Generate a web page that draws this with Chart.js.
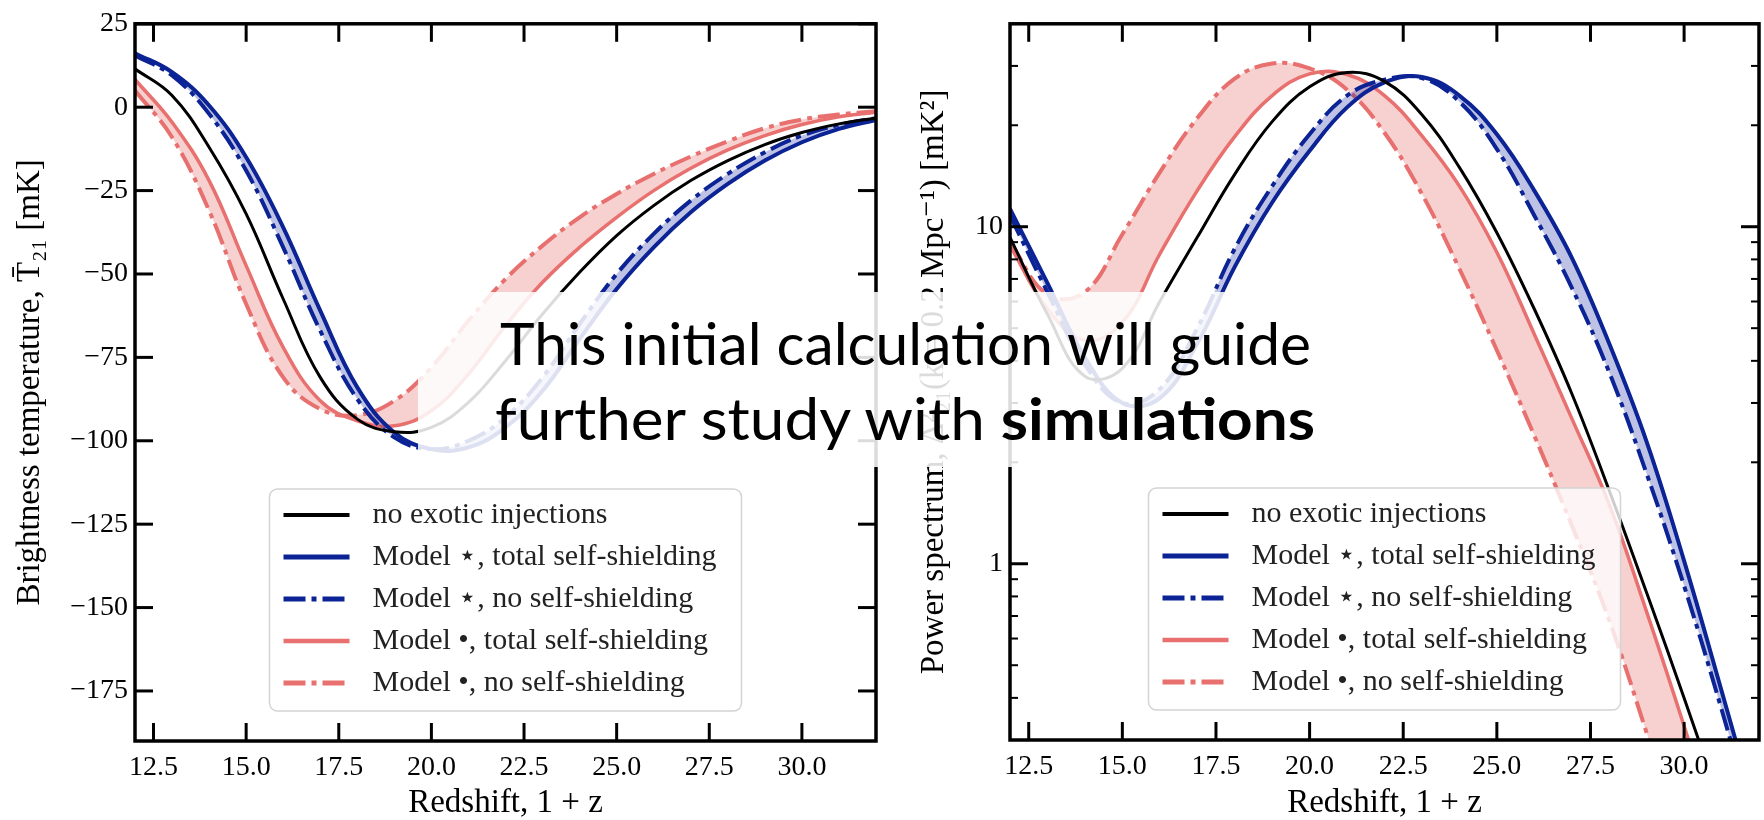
<!DOCTYPE html>
<html>
<head>
<meta charset="utf-8">
<script src="https://cdn.jsdelivr.net/npm/chart.js@4.4.1/dist/chart.umd.min.js"></script>
<style>
  html, body { margin: 0; padding: 0; background: #fff; }
  body { width: 1764px; height: 820px; position: relative; overflow: hidden; }
  .panel { position: absolute; top: 0; height: 820px; }
  #leftBox { left: 0; width: 900px; }
  #rightBox { left: 880px; width: 884px; }
  #note {
    position: absolute; left: 418px; top: 292px; width: 917px; height: 175px;
    background: rgba(255, 255, 255, 0.86); z-index: 5;
  }
  #note .line {
    position: absolute; white-space: nowrap; line-height: 1;
    font-family: Lato, "Open Sans", sans-serif; font-size: 58px; color: #000;
    transform-origin: 0 0;
  }
</style>
</head>
<body>
<div id="leftBox" class="panel"><canvas id="tempChart"></canvas></div>
<div id="rightBox" class="panel"><canvas id="powerChart"></canvas></div>
<div id="note">
  <div class="line" style="left:82px; top:22px" data-w="811">This initial calculation will guide</div>
  <div class="line" style="left:77px; top:97px" data-w="820">further study with <b>simulations</b></div>
</div>
<script>
// redshift grid, 1 + z
const redshift = [12, 13, 14, 15, 16, 17, 18, 19, 20, 21, 22, 23, 24, 25, 26, 27, 28, 29, 30, 31, 32];

// global 21-cm brightness temperature [mK]
const tNoExotic  = [11.5, 3.5, -12, -32, -57.5, -81, -93.5, -97.3, -96, -88.5, -76, -62, -49.5, -38.5, -29.5, -22, -16, -11.2, -7.6, -5, -3.2];
const tStarTotal = [16.2, 10.5, 0.5, -15, -36, -61, -84, -97.5, -102.5, -102, -96, -85, -69.5, -54.5, -42, -31.5, -23, -16, -10.5, -6.5, -3.8];
const tStarNone  = [15.5, 9.5, -2, -19, -42, -67, -87.5, -99, -102.5, -100, -93, -81, -65, -50, -38, -28, -20, -13.5, -8.5, -5.3, -3.3];
const tDotTotal  = [8.3, -4.5, -22, -47.5, -72, -88, -94, -95.5, -91, -80, -65.5, -52.5, -42, -33, -25, -18.3, -12.8, -8.5, -5.2, -2.9, -1.5];
const tDotNone   = [5, -9, -31, -59, -81, -90.5, -92.3, -88, -78, -64, -51.5, -41.5, -33, -26, -20, -14.8, -10.2, -6.3, -3.7, -2.2, -1.2];

// 21-cm power spectrum at k = 0.2 Mpc^-1 [mK^2]
const pNoExotic  = [9.3, 5.5, 3.6, 3.8, 6.0, 9.3, 14.3, 20.5, 26, 28.7, 27, 21.5, 15, 9.6, 5.7, 3.2, 1.65, 0.82, 0.4, 0.19, 0.09];
const pStarTotal = [11.3, 6.8, 4.1, 3.0, 3.1, 4.5, 7.6, 11.8, 16.8, 22.6, 26.8, 27.8, 24.5, 18.8, 12.8, 8.1, 4.5, 2.3, 1.02, 0.42, 0.17];
const pStarNone  = [10.8, 6.4, 3.9, 3.0, 3.3, 5.0, 8.6, 13.2, 18.8, 24.5, 27.3, 27.6, 23.5, 17.0, 10.8, 6.6, 3.7, 1.85, 0.86, 0.37, 0.15];
const pDotTotal  = [8.8, 5.7, 4.6, 5.2, 8.3, 12.8, 18.5, 24.5, 28.4, 28.3, 24.5, 18.6, 13.2, 8.4, 4.8, 2.7, 1.5, 0.72, 0.33, 0.145, 0.063];
const pDotNone   = [9.0, 6.3, 6.4, 9.5, 14.5, 21, 27.5, 30.5, 29.5, 25.5, 19, 12.5, 7.5, 4.3, 2.4, 1.3, 0.68, 0.315, 0.14, 0.062, 0.027];

const seriesLabels = [
  'no exotic injections',
  'Model \u22C6, total self-shielding',
  'Model \u22C6, no self-shielding',
  'Model \u2022, total self-shielding',
  'Model \u2022, no self-shielding'
];

// axis ticks
const zTicks = [12.5, 15, 17.5, 20, 22.5, 25, 27.5, 30];
const tTicks = [-175, -150, -125, -100, -75, -50, -25, 0, 25];
const pMajorTicks = [1, 10];
const pMinorTicks = [0.3, 0.4, 0.5, 0.6, 0.7, 0.8, 0.9, 2, 3, 4, 5, 6, 7, 8, 9, 20, 30, 40];

const SERIF = '"Liberation Serif", "DejaVu Serif", serif';
const BLUE = '#0b2394';
const RED = '#e8706f';
const DASHDOT = [22, 6, 5, 6];

const pts = vals => vals.map((v, i) => ({ x: redshift[i], y: v }));

function makeDatasets(s) {
  return [
    { label: seriesLabels[0], data: pts(s[0]), borderColor: '#000', borderWidth: 3, fill: false },
    { label: seriesLabels[1], data: pts(s[1]), borderColor: BLUE, borderWidth: 4,
      fill: '+1', backgroundColor: 'rgba(20, 40, 160, 0.28)' },
    { label: seriesLabels[2], data: pts(s[2]), borderColor: BLUE, borderWidth: 4, borderDash: DASHDOT, fill: false },
    { label: seriesLabels[3], data: pts(s[3]), borderColor: RED, borderWidth: 3.5,
      fill: '+1', backgroundColor: 'rgba(232, 112, 112, 0.33)' },
    { label: seriesLabels[4], data: pts(s[4]), borderColor: RED, borderWidth: 4, borderDash: DASHDOT, fill: false }
  ];
}

// box frame with inward ticks on all four sides
const frameTicks = {
  id: 'frameTicks',
  afterDatasetsDraw(chart, args, opts) {
    const { ctx, chartArea: a, scales: { x, y } } = chart;
    const seg = (x1, y1, x2, y2) => { ctx.beginPath(); ctx.moveTo(x1, y1); ctx.lineTo(x2, y2); ctx.stroke(); };
    ctx.save();
    ctx.strokeStyle = '#000';
    ctx.lineWidth = 3;
    for (const v of opts.xMajor) {
      const px = x.getPixelForValue(v);
      seg(px, a.bottom, px, a.bottom - 18);
      seg(px, a.top, px, a.top + 18);
    }
    for (const v of opts.yMajor) {
      const py = y.getPixelForValue(v);
      seg(a.left, py, a.left + 18, py);
      seg(a.right, py, a.right - 18, py);
    }
    ctx.lineWidth = 2;
    for (const v of (opts.yMinor || [])) {
      const py = y.getPixelForValue(v);
      seg(a.left, py, a.left + 8, py);
      seg(a.right, py, a.right - 8, py);
    }
    ctx.lineWidth = 3.5;
    ctx.strokeRect(a.left, a.top, a.right - a.left, a.bottom - a.top);
    ctx.restore();
  }
};

// framed legend sitting at the bottom centre of the plot area
const boxLegend = {
  id: 'boxLegend',
  afterDraw(chart) {
    const { ctx, chartArea: a } = chart;
    const w = 472, h = 222, rowH = 42;
    const left = (a.left + a.right) / 2 - w / 2;
    const top = a.bottom - 30 - h;
    ctx.save();
    ctx.beginPath();
    ctx.roundRect(left, top, w, h, 8);
    ctx.fillStyle = 'rgba(255, 255, 255, 0.8)';
    ctx.fill();
    ctx.strokeStyle = '#d4d4d4';
    ctx.lineWidth = 1.5;
    ctx.stroke();
    ctx.font = '30px ' + SERIF;
    ctx.textBaseline = 'middle';
    chart.data.datasets.forEach((ds, i) => {
      const cy = top + 26 + i * rowH;
      ctx.strokeStyle = ds.borderColor;
      ctx.lineWidth = ds.borderWidth + 1;
      ctx.setLineDash(ds.borderDash || []);
      ctx.beginPath();
      ctx.moveTo(left + 14, cy);
      ctx.lineTo(left + 80, cy);
      ctx.stroke();
      ctx.setLineDash([]);
      ctx.fillStyle = '#222';
      ctx.fillText(ds.label, left + 103, cy);
    });
    ctx.restore();
  }
};

const minus = v => (v < 0 ? '\u2212' + Math.abs(v) : String(v));

function xAxis(height) {
  return {
    type: 'linear', min: 12, max: 32,
    afterBuildTicks: s => { s.ticks = zTicks.map(v => ({ value: v })); },
    afterFit: s => { s.height = height; },
    grid: { display: false, drawTicks: false },
    border: { display: false },
    ticks: { font: { family: SERIF, size: 28 }, color: '#000', padding: 10, maxRotation: 0, autoSkip: false,
             callback: v => v.toFixed(1) },
    title: { display: true, text: 'Redshift, 1 + z', color: '#000',
             font: { family: SERIF, size: 33, lineHeight: 1 }, padding: { top: 0, bottom: 0 } }
  };
}

function baseOptions(padding) {
  return {
    responsive: true, maintainAspectRatio: false, animation: false,
    layout: { padding },
    elements: { point: { radius: 0 }, line: { tension: 0.4 } },
    plugins: { legend: { display: false }, tooltip: { enabled: false } }
  };
}

const tempOptions = baseOptions({ top: 20, right: 24, left: 0, bottom: 0 });
tempOptions.scales = {
  x: xAxis(79),
  y: {
    type: 'linear', min: -190, max: 25,
    afterBuildTicks: s => { s.ticks = tTicks.map(v => ({ value: v })); },
    afterFit: s => { s.width = 135; },
    grid: { display: false, drawTicks: false },
    border: { display: false },
    ticks: { font: { family: SERIF, size: 28 }, color: '#000', padding: 7, autoSkip: false, callback: v => minus(v) },
    title: { display: true, text: 'Brightness temperature, T\u0304\u2082\u2081 [mK]', color: '#000',
             font: { family: SERIF, size: 33, lineHeight: 1 }, padding: { top: 14, bottom: 0 } }
  }
};
tempOptions.plugins.frameTicks = { xMajor: zTicks, yMajor: tTicks };

new Chart(document.getElementById('tempChart'), {
  type: 'line',
  data: { datasets: makeDatasets([tNoExotic, tStarTotal, tStarNone, tDotTotal, tDotNone]) },
  options: tempOptions,
  plugins: [frameTicks, boxLegend]
});

const powerOptions = baseOptions({ top: 12, right: 5, left: 0, bottom: 0 });
powerOptions.scales = {
  x: xAxis(80),
  y: {
    type: 'logarithmic', min: 0.3, max: 40,
    afterBuildTicks: s => { s.ticks = pMinorTicks.concat(pMajorTicks).sort((a, b) => a - b).map(v => ({ value: v })); },
    afterFit: s => { s.width = 130; },
    grid: { display: false, drawTicks: false },
    border: { display: false },
    ticks: { font: { family: SERIF, size: 28 }, color: '#000', padding: 7, autoSkip: false,
             callback: v => (pMajorTicks.includes(v) ? String(v) : '') },
    title: { display: true, text: 'Power spectrum, \u0394\u00B2\u2082\u2081(k = 0.2 Mpc\u207B\u00B9) [mK\u00B2]', color: '#000',
             font: { family: SERIF, size: 33, lineHeight: 1 }, padding: { top: 38, bottom: 0 } }
  }
};
powerOptions.plugins.frameTicks = { xMajor: zTicks, yMajor: pMajorTicks, yMinor: pMinorTicks };

new Chart(document.getElementById('powerChart'), {
  type: 'line',
  data: { datasets: makeDatasets([pNoExotic, pStarTotal, pStarNone, pDotTotal, pDotNone]) },
  options: powerOptions,
  plugins: [frameTicks, boxLegend]
});

// squeeze the caption lines to their set widths
document.querySelectorAll('#note .line').forEach(el => {
  const w = el.getBoundingClientRect().width;
  el.style.transform = 'scaleX(' + (Number(el.dataset.w) / w) + ')';
});
</script>
</body>
</html>
